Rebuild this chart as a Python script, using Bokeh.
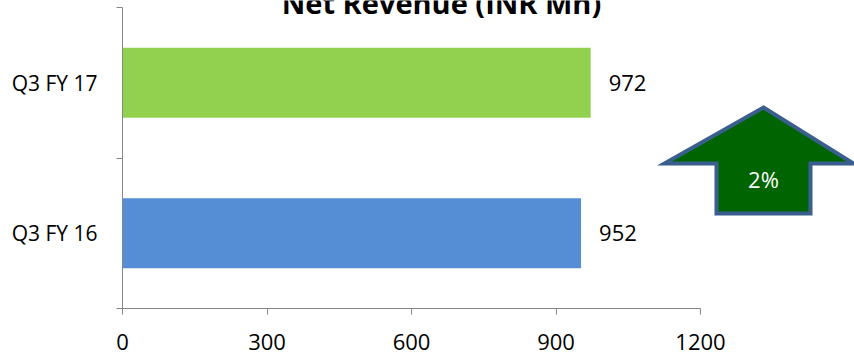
from bokeh.plotting import figure
from bokeh.models import ColumnDataSource, Range1d, FixedTicker, Label
from bokeh.core.properties import value
from bokeh.embed import file_html
from bokeh.resources import INLINE

# ---- data ----
categories = ["Q3 FY 16", "Q3 FY 17"]
revenue = [952, 972]
x_ticks = [0, 300, 600, 900, 1200]
title_text = "Net Revenue (INR Mn)"
growth_text = "2%"

# ---- style ----
bar_colors = ["#558ED5", "#92D050"]
axis_color = "#868686"
FONT = "Open Sans"

W, H = 854, 356
LEFT, BOTTOM = 122, 48
X_END = 1200 * (W - LEFT) / 578.0    # 578 px for 1200 units
PX_PER_BAND = 150.5
Y_END = 2 + 7 / PX_PER_BAND

def dx(px):
    return (px - LEFT) * X_END / (W - LEFT)

def dy(py):
    return Y_END - py / PX_PER_BAND

ypos = [i + 0.5 for i in range(len(categories))]
src = ColumnDataSource(dict(y=ypos, right=revenue, color=bar_colors,
                            label=[str(v) for v in revenue]))

p = figure(width=W, height=H, output_backend="svg", toolbar_location=None,
           x_range=Range1d(0, X_END), y_range=Range1d(0, Y_END),
           min_border_left=LEFT, min_border_right=0, min_border_top=0,
           min_border_bottom=BOTTOM)
p.outline_line_color = None
p.xgrid.visible = False
p.ygrid.visible = False
p.background_fill_color = "white"
p.border_fill_color = "white"

p.hbar(y="y", right="right", left=0, height=0.465, fill_color="color",
       line_color=None, source=src)
p.text(x="right", y="y", text="label", source=src, x_offset=18,
       text_align="left", text_baseline="middle", text_font=value(FONT),
       text_font_size="22px", text_color="black")

# x axis
xa = p.xaxis[0]
xa.ticker = FixedTicker(ticks=x_ticks)
xa.bounds = (0, 1200)
xa.axis_line_color = axis_color
xa.major_tick_line_color = axis_color
xa.major_tick_out = 6
xa.major_tick_in = 0
xa.minor_tick_line_color = None
xa.major_label_text_font = FONT
xa.major_label_text_font_size = "22px"
xa.major_label_text_color = "black"
xa.major_label_standoff = 19

# y axis
ya = p.yaxis[0]
ya.ticker = FixedTicker(ticks=ypos, minor_ticks=list(range(len(categories) + 1)))
ya.bounds = (0, len(categories))
ya.major_label_overrides = {yv: c for yv, c in zip(ypos, categories)}
ya.axis_line_color = axis_color
ya.major_tick_line_color = None
ya.major_tick_out = 0
ya.major_tick_in = 0
ya.minor_tick_line_color = axis_color
ya.minor_tick_out = 6
ya.minor_tick_in = 0
ya.major_label_text_font = FONT
ya.major_label_text_font_size = "21px"
ya.major_label_text_color = "black"
ya.major_label_standoff = 19

# title (clipped at top like the reference)
p.add_layout(Label(x=dx(441), y=dy(2), text=title_text, text_align="center",
                   text_baseline="alphabetic", text_font=FONT,
                   text_font_size="29px", text_font_style="bold",
                   text_color="black"))

# growth arrow
arrow_px = [(763, 107), (853, 163), (810, 163), (810, 213),
            (716, 213), (716, 163), (664, 163)]
p.patch([dx(a) for a, b in arrow_px], [dy(b) for a, b in arrow_px],
        fill_color="#006400", line_color="#3A5F8F", line_width=4,
        line_join="miter")
p.text(x=[dx(763)], y=[dy(178)], text=[growth_text], text_align="center",
       text_baseline="middle", text_font=value(FONT), text_font_size="22px",
       text_color="white")

open("out.html", "w").write(file_html(p, INLINE))
